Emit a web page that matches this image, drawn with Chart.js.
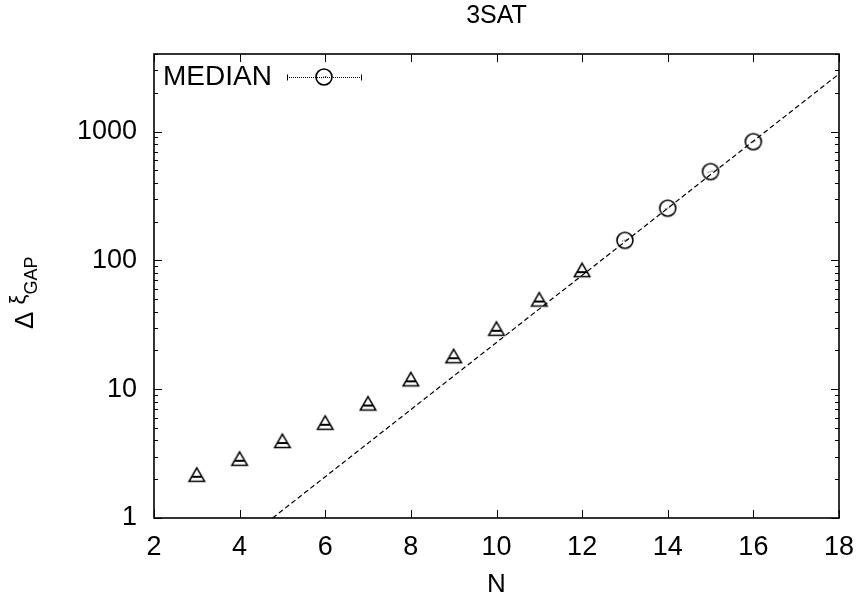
<!DOCTYPE html>
<html><head><meta charset="utf-8">
<script src="https://cdn.jsdelivr.net/npm/chart.js@4.4.1/dist/chart.umd.min.js"></script>
<style>html,body{margin:0;padding:0;background:#fff;}#wrap{width:862px;height:604px;}</style>
</head><body><div id="wrap"><canvas id="c" width="862" height="604"></canvas></div>
<script>
// ---- data ----
const triN = [3, 4, 5, 6, 7, 8, 9, 10, 11, 12];
const triValues = [2.09, 2.78, 3.82, 5.29, 7.47, 11.5, 17.4, 28.4, 47.9, 81.0];
const medianN = [13, 14, 15, 16];
const medianValues = [143, 254, 489, 835];
const fitN = [4.77, 18];
const fitValues = [1, 2800];
const xTickValues = [2, 4, 6, 8, 10, 12, 14, 16, 18];
const xTickLabels = ['2', '4', '6', '8', '10', '12', '14', '16', '18'];
const yMajorValues = [1, 10, 100, 1000];
const yMajorLabels = ['1', '10', '100', '1000'];
const seriesLabel = 'MEDIAN';
const titleText = '3SAT';
const xTitle = 'N';

const FONT = '"Liberation Sans", Arial, Helvetica, sans-serif';

function triMarker() {
  const c = document.createElement('canvas'); c.width = 24; c.height = 24;
  const g = c.getContext('2d'); const cx = 12, cy = 12, r = 9;
  g.strokeStyle = '#000'; g.lineWidth = 1.5;
  g.beginPath();
  g.moveTo(cx, cy - r);
  g.lineTo(cx + r * Math.sin(2 * Math.PI / 3), cy + r / 2);
  g.lineTo(cx - r * Math.sin(2 * Math.PI / 3), cy + r / 2);
  g.closePath(); g.stroke();
  g.lineWidth = 2; g.beginPath(); g.moveTo(cx - 5, cy); g.lineTo(cx + 5, cy); g.stroke();
  return c;
}
function circMarker() {
  const c = document.createElement('canvas'); c.width = 22; c.height = 22;
  const g = c.getContext('2d');
  g.strokeStyle = '#000'; g.lineWidth = 1.6;
  g.beginPath(); g.arc(11, 11, 8, 0, Math.PI * 2); g.stroke();
  g.lineWidth = 0.9; g.setLineDash([1, 1]);
  g.beginPath(); g.moveTo(8, 12); g.lineTo(14, 10); g.stroke();
  return c;
}
const triImg = triMarker();
const circImg = circMarker();

// minor tick values generated per decade (axis decoration, not data)
const yTicksAll = [];
yMajorValues.forEach(d => { for (let m = 1; m <= 9; m++) { const v = d * m; if (v <= 4000) yTicksAll.push(v); } });

const frame = {
  id: 'frame',
  afterDraw(chart) {
    const { ctx, chartArea: { left, right, top, bottom } } = chart;
    const xs = chart.scales.x, ys = chart.scales.y;
    ctx.save(); ctx.strokeStyle = '#000'; ctx.lineWidth = 1;
    const seg = (a, b, c, d) => { ctx.beginPath(); ctx.moveTo(a, b); ctx.lineTo(c, d); ctx.stroke(); };
    xs.ticks.forEach(t => {
      const px = Math.round(xs.getPixelForValue(t.value)) + 0.5;
      seg(px, bottom, px, bottom - 8); seg(px, top, px, top + 8);
    });
    ys.ticks.forEach(t => {
      const py = Math.round(ys.getPixelForValue(t.value)) + 0.5;
      const len = yMajorValues.includes(t.value) ? 8 : 4;
      seg(left, py, left + len, py); seg(right, py, right - len, py);
    });
    ctx.lineWidth = 1.6;
    ctx.strokeRect(left, top, right - left, bottom - top);
    ctx.restore();
  }
};

const yTitlePlugin = {
  id: 'yTitle',
  afterDraw(chart) {
    const ctx = chart.ctx; ctx.save();
    ctx.translate(33, 329); ctx.rotate(-Math.PI / 2);
    ctx.fillStyle = '#000'; ctx.textBaseline = 'alphabetic'; ctx.textAlign = 'left';
    ctx.font = '26px ' + FONT;
    ctx.fillText('Δ', 0, 0);
    let x = ctx.measureText('Δ ').width;
    ctx.font = '22px ' + FONT;
    ctx.fillText('ξ', x, -8);
    x += ctx.measureText('ξ').width;
    ctx.font = '18px ' + FONT;
    ctx.fillText('GAP', x, 4);
    ctx.restore();
  }
};

const legendPlugin = {
  id: 'keyBox',
  afterDraw(chart) {
    const ctx = chart.ctx; ctx.save();
    const label = chart.data.datasets[1].label;
    ctx.fillStyle = '#000'; ctx.font = '28px ' + FONT;
    ctx.textBaseline = 'alphabetic'; ctx.textAlign = 'left';
    ctx.fillText(label, 163, 85);
    ctx.strokeStyle = '#000'; ctx.lineWidth = 1;
    ctx.setLineDash([1, 1]);
    ctx.beginPath(); ctx.moveTo(287, 77.5); ctx.lineTo(362, 77.5); ctx.stroke();
    ctx.setLineDash([]);
    ctx.beginPath(); ctx.moveTo(287.5, 74.5); ctx.lineTo(287.5, 80.5); ctx.moveTo(361.5, 74.5); ctx.lineTo(361.5, 80.5); ctx.stroke();
    ctx.drawImage(circImg, 324 - 11, 77 - 11);
    ctx.restore();
  }
};

new Chart(document.getElementById('c'), {
  data: {
    datasets: [
      { type: 'scatter', label: 'triangles', data: triN.map((n, i) => ({ x: n, y: triValues[i] })),
        pointStyle: triImg, pointRadius: 9, borderColor: '#000', backgroundColor: '#000' },
      { type: 'scatter', label: seriesLabel, data: medianN.map((n, i) => ({ x: n, y: medianValues[i] })),
        pointStyle: circImg, pointRadius: 8, borderColor: '#000', backgroundColor: '#000' },
      { type: 'line', label: 'fit', data: fitN.map((n, i) => ({ x: n, y: fitValues[i] })),
        borderColor: '#000', borderWidth: 1.2, borderDash: [5, 3], pointRadius: 0, fill: false, tension: 0 }
    ]
  },
  options: {
    responsive: false, animation: false, devicePixelRatio: 1,
    layout: { padding: { left: 0, right: 23, top: 0, bottom: 0 } },
    plugins: {
      legend: { display: false }, tooltip: { enabled: false },
      title: { display: true, fullSize: false, text: titleText, color: '#000', font: { family: FONT, size: 25, weight: 'normal' },
        padding: { top: 1.5, bottom: 22.5 } }
    },
    scales: {
      x: {
        type: 'linear', min: 2, max: 18,
        afterBuildTicks: s => { s.ticks = xTickValues.map(v => ({ value: v })); },
        afterFit: s => { s.height = 86; s.paddingLeft = 0; s.paddingRight = 0; },
        grid: { display: false, drawTicks: false }, border: { display: false },
        ticks: { color: '#000', font: { family: FONT, size: 27 }, padding: 13, autoSkip: false, maxRotation: 0,
          callback: v => { const i = xTickValues.indexOf(v); return i >= 0 ? xTickLabels[i] : ''; } },
        title: { display: true, text: xTitle, color: '#000', font: { family: FONT, size: 26 }, padding: { top: 0, bottom: 3.5 } }
      },
      y: {
        type: 'logarithmic', min: 1, max: 4000,
        afterBuildTicks: s => { s.ticks = yTicksAll.map(v => ({ value: v })); },
        afterFit: s => { s.width = 154; s.paddingTop = 0; s.paddingBottom = 0; },
        grid: { display: false, drawTicks: false }, border: { display: false },
        ticks: { color: '#000', font: { family: FONT, size: 27 }, padding: 17, autoSkip: false,
          callback: v => { const i = yMajorValues.indexOf(v); return i >= 0 ? yMajorLabels[i] : ''; } }
      }
    }
  },
  plugins: [frame, yTitlePlugin, legendPlugin]
});
</script></body></html>
